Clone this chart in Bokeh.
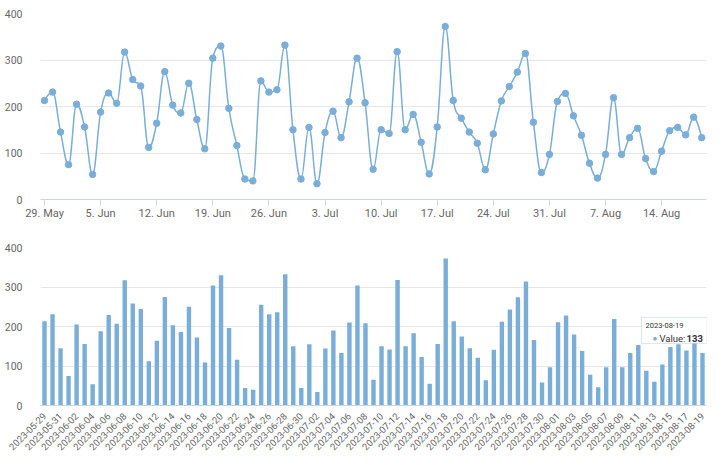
import math
import numpy as np
import pandas as pd
from bokeh.plotting import figure
from bokeh.layouts import column
from bokeh.models import Range1d, FixedTicker, BoxAnnotation, Label
from bokeh.embed import file_html
from bokeh.resources import INLINE

# ---------------- data ----------------
start_date = "2023-05-29"
values = [213, 231, 145, 75, 205, 156, 54, 188, 229, 207,
          317, 258, 244, 112, 164, 275, 203, 186, 250, 172,
          109, 304, 330, 196, 116, 44, 40, 255, 231, 236,
          332, 150, 44, 155, 34, 144, 190, 133, 210, 304,
          208, 65, 150, 142, 318, 150, 183, 123, 55, 156,
          372, 213, 175, 145, 121, 64, 141, 212, 243, 274,
          314, 166, 58, 97, 211, 228, 180, 138, 78, 46,
          97, 219, 97, 133, 153, 88, 60, 104, 148, 155,
          139, 177, 133]
dates = pd.date_range(start_date, periods=len(values), freq="D")
date_labels = [d.strftime("%Y-%m-%d") for d in dates]
y_ticks = [0, 100, 200, 300, 400]
series_name = "Value"

# ---------------- style ----------------
COLOR = "#7aaed8"
GRID = "#e6e6e6"
AXIS = "#ccd6eb"
LABEL = "#666666"
FONT = "Roboto"

n = len(values)
xs_ms = (dates.astype("int64") // 10**6).to_numpy().astype(float)
ys = np.array(values, dtype=float)

# Highcharts-like spline control points
sm = 1.5
den = sm + 1
lcx = xs_ms.copy(); lcy = ys.copy(); rcx = xs_ms.copy(); rcy = ys.copy()
for i in range(1, n - 1):
    px, py = xs_ms[i], ys[i]
    lx, ly = xs_ms[i - 1], ys[i - 1]
    nx, ny = xs_ms[i + 1], ys[i + 1]
    a_x = (sm * px + lx) / den; a_y = (sm * py + ly) / den
    b_x = (sm * px + nx) / den; b_y = (sm * py + ny) / den
    if b_x != a_x:
        corr = ((b_y - a_y) * (b_x - px)) / (b_x - a_x) + py - b_y
        a_y += corr; b_y += corr
    if a_y > ly and a_y > py:
        a_y = max(ly, py); b_y = 2 * py - a_y
    elif a_y < ly and a_y < py:
        a_y = min(ly, py); b_y = 2 * py - a_y
    if b_y > ny and b_y > py:
        b_y = max(ny, py); a_y = 2 * py - b_y
    elif b_y < ny and b_y < py:
        b_y = min(ny, py); a_y = 2 * py - b_y
    lcx[i], lcy[i], rcx[i], rcy[i] = a_x, a_y, b_x, b_y

day_ms = 86400000.0

# ---------------- top: spline ----------------
top = figure(width=720, height=225, x_axis_type="datetime",
             output_backend="svg", toolbar_location=None,
             min_border_left=40, min_border_right=14,
             min_border_top=13, min_border_bottom=26)
top.x_range = Range1d(xs_ms[0] - 0.5 * day_ms, xs_ms[-1] + 0.6 * day_ms)
top.y_range = Range1d(0, 400)
top.bezier(x0=xs_ms[:-1], y0=ys[:-1], x1=xs_ms[1:], y1=ys[1:],
           cx0=rcx[:-1], cy0=rcy[:-1], cx1=lcx[1:], cy1=lcy[1:],
           line_color=COLOR, line_width=1.5)
top.scatter(x=xs_ms, y=ys, size=6.5, fill_color=COLOR, line_color=COLOR)

mondays = [float(x) for x, d in zip(xs_ms, dates) if d.weekday() == 0]
top.xaxis.ticker = FixedTicker(ticks=mondays)
top.xaxis.major_label_overrides = {float(x): f"{d.day}. {d.strftime('%b')}"
                                   for x, d in zip(xs_ms, dates) if d.weekday() == 0}

# ---------------- bottom: columns ----------------
idx = np.arange(n)
bot = figure(width=720, height=238, output_backend="svg", toolbar_location=None,
             min_border_left=40, min_border_right=14,
             min_border_top=22, min_border_bottom=58)
bot.x_range = Range1d(-0.5, n - 0.5)
bot.y_range = Range1d(0, 400)
bot.vbar(x=idx, top=ys, width=0.55, fill_color=COLOR, line_color=None)
even = [int(i) for i in idx if i % 2 == 0]
bot.xaxis.ticker = FixedTicker(ticks=even)
bot.xaxis.major_label_overrides = {i: date_labels[i] for i in even}
bot.xaxis.major_label_orientation = math.pi / 4

# tooltip on the last column
li = n - 1
lv = values[-1]
px_per_cat = 666.0 / n
px_per_val = 158.0 / 400
bot.add_layout(BoxAnnotation(left=li - 61 / px_per_cat, right=li + 4.5 / px_per_cat,
                             bottom=lv + 9.5 / px_per_val, top=lv + 35.5 / px_per_val,
                             fill_color="white", fill_alpha=0.9,
                             line_color=COLOR, line_width=1, level="overlay"))
bot.add_layout(Label(x=li, y=lv, x_offset=-57, y_offset=27, text=date_labels[-1],
                     text_font_size="7.5px", text_color="#333333", text_font=FONT,
                     text_baseline="middle", level="overlay"))
bot.add_layout(Label(x=li, y=lv, x_offset=-50, y_offset=14, text="●",
                     text_font_size="8px", text_color=COLOR, text_font=FONT,
                     text_baseline="middle", level="overlay"))
bot.add_layout(Label(x=li, y=lv, x_offset=-43, y_offset=14, text=f"{series_name}:",
                     text_font_size="9.5px", text_color="#333333", text_font=FONT,
                     text_baseline="middle", level="overlay"))
bot.add_layout(Label(x=li, y=lv, x_offset=-16, y_offset=14, text=str(lv),
                     text_font_size="9.5px", text_color="#333333", text_font=FONT,
                     text_font_style="bold", text_baseline="middle", level="overlay"))

for p in (top, bot):
    p.outline_line_color = None
    p.background_fill_color = "white"
    p.border_fill_color = "white"
    p.yaxis.ticker = FixedTicker(ticks=y_ticks)
    p.ygrid.grid_line_color = GRID
    p.xgrid.grid_line_color = None
    p.yaxis.axis_line_color = None
    p.yaxis.major_tick_line_color = None
    p.yaxis.minor_tick_line_color = None
    p.yaxis.major_label_standoff = 12
    p.yaxis.major_label_text_color = LABEL
    p.yaxis.major_label_text_font = FONT
    p.yaxis.major_label_text_font_size = "10.5px"
    p.xaxis.axis_line_color = AXIS
    p.xaxis.minor_tick_line_color = None
    p.xaxis.major_label_text_color = LABEL
    p.xaxis.major_label_text_font = FONT

top.xaxis.major_tick_line_color = AXIS
top.xaxis.major_tick_out = 6
top.xaxis.major_tick_in = 0
top.xaxis.major_label_standoff = 1
top.xaxis.major_label_text_font_size = "11px"

bot.xaxis.major_tick_line_color = None
bot.xaxis.major_label_standoff = 3
bot.xaxis.major_label_text_font_size = "9.5px"

layout = column(top, bot, spacing=0)
open("out.html", "w").write(file_html(layout, INLINE))
